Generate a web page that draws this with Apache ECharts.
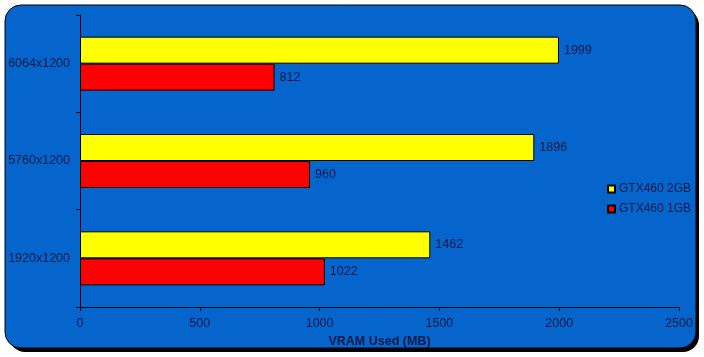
<!DOCTYPE html>
<html><head><meta charset="utf-8">
<script src="https://cdn.jsdelivr.net/npm/echarts@6/dist/echarts.min.js"></script>
<style>html,body{margin:0;padding:0;background:#fff}#c{width:704px;height:357px}</style>
</head><body><div id="c"></div>
<script>
const categories = ['1920x1200', '5760x1200', '6064x1200'];
const gtx2gb = [1462, 1896, 1999];
const gtx1gb = [1022, 960, 812];
const xTicks = [0, 500, 1000, 1500, 2000, 2500];
const txt = '#0a1a44';
const font = 'Liberation Sans';
const chart = echarts.init(document.getElementById('c'));
chart.setOption({
  animation: false,
  backgroundColor: '#fff',
  graphic: [
    {type: 'rect', z: -20, shape: {x: 9, y: 9, width: 690, height: 343, r: 16}, style: {fill: '#000'}},
    {type: 'rect', z: -10, shape: {x: 5, y: 5, width: 691, height: 343, r: 16}, style: {fill: '#0565cd', stroke: '#000', lineWidth: 1}}
  ],
  grid: {left: 80, right: 25, top: 15, bottom: 50},
  legend: {
    orient: 'vertical', left: 602, top: 178, itemWidth: 7, itemHeight: 7, itemGap: 8,
    icon: 'rect',
    textStyle: {color: txt, fontFamily: font, fontSize: 12, padding: [0,0,0,-1]},
    data: ['GTX460 2GB', 'GTX460 1GB']
  },
  xAxis: {
    type: 'value', min: xTicks[0], max: xTicks[xTicks.length-1], interval: 500,
    name: 'VRAM Used (MB)', nameLocation: 'middle', nameGap: 27,
    nameTextStyle: {color: txt, fontWeight: 'bold', fontFamily: font, fontSize: 12.5},
    axisLine: {show: true, lineStyle: {color: '#000'}},
    axisTick: {show: true, length: 4, lineStyle: {color: '#000'}},
    axisLabel: {color: txt, fontFamily: font, fontSize: 12.5, margin: 10, formatter: v => String(v)},
    splitLine: {show: false}
  },
  yAxis: {
    type: 'category', data: categories,
    axisLine: {show: true, lineStyle: {color: '#000'}},
    axisTick: {show: true, length: 4, alignWithLabel: false, lineStyle: {color: '#000'}},
    axisLabel: {color: txt, fontFamily: font, fontSize: 12.5, margin: 10}
  },
  series: [
    {name: 'GTX460 2GB', type: 'bar', data: gtx2gb, barWidth: 27, barGap: '0%',
     itemStyle: {color: '#ffff00', borderColor: '#000', borderWidth: 1},
     label: {show: true, position: 'right', distance: 5, color: txt, fontFamily: font, fontSize: 12.5}},
    {name: 'GTX460 1GB', type: 'bar', data: gtx1gb, barWidth: 27, barGap: '0%',
     itemStyle: {color: '#ff0000', borderColor: '#000', borderWidth: 1},
     label: {show: true, position: 'right', distance: 5, color: txt, fontFamily: font, fontSize: 12.5}}
  ]
});
</script></body></html>
